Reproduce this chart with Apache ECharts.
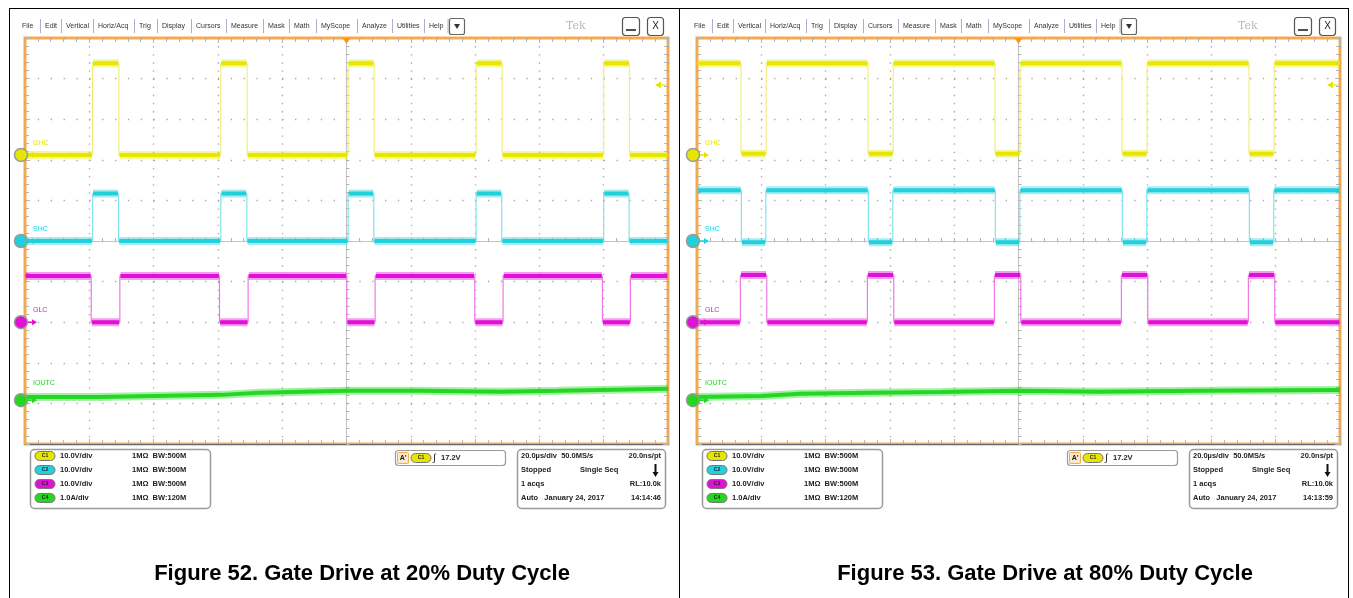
<!DOCTYPE html>
<html>
<head>
<meta charset="utf-8">
<script src="https://cdn.jsdelivr.net/npm/echarts@6/dist/echarts.min.js"></script>
<style>
html, body { margin: 0; padding: 0; background: #fff; }
#chart { width: 1353px; height: 598px; }
</style>
</head>
<body>
<div id="chart"></div>
<script>
// horizontal: microseconds (20 us/div), vertical: divisions
// edges = times where the trace toggles, levels = [level at start, other level]

// Figure 52, 20% duty
const ghcEdges20 = [-79.0, -70.8, -39.1, -30.9, 0.5, 8.6, 40.3, 48.4, 80.0, 88.0];
const shcEdges20 = [-79.0, -70.9, -39.1, -31.0, 0.5, 8.5, 40.3, 48.3, 80.0, 87.9];
const glcEdges20 = [-79.4, -70.5, -39.5, -30.6, 0.1, 8.9, 39.9, 48.7, 79.6, 88.3];
const ghcLevels20 = [2.12, 4.38];
const shcLevels20 = [0.0, 1.17];
const glcLevels20 = [-0.86, -2.0];
const ioutcTrace20 = [[-100, -3.84], [-77, -3.84], [-39, -3.79], [-27, -3.74], [0, -3.69], [23, -3.69], [48, -3.71], [66, -3.69], [79, -3.67], [100, -3.64]];

// Figure 53, 80% duty
const ghcEdges80 = [-86.3, -78.5, -46.8, -39.0, -7.3, 0.5, 32.2, 40.0, 71.7, 79.5];
const shcEdges80 = [-86.2, -78.6, -46.7, -39.1, -7.2, 0.4, 32.3, 39.9, 71.8, 79.4];
const glcEdges80 = [-86.5, -78.3, -47.0, -38.8, -7.5, 0.7, 32.0, 40.2, 71.5, 79.7];
const ghcLevels80 = [4.38, 2.15];
const shcLevels80 = [1.25, -0.03];
const glcLevels80 = [-2.0, -0.84];
const ioutcTrace80 = [[-100, -3.84], [-80, -3.82], [-68, -3.76], [-46, -3.74], [-24, -3.72], [0, -3.69], [25, -3.71], [56, -3.69], [100, -3.67]];

const channelNames = ['GHC', 'SHC', 'GLC', 'IOUTC'];
const channelOffsets = [2.12, 0, -2.0, -3.92];
const channelColors = ['#e6e600', '#22d0dc', '#e010d8', '#22d822'];
const edgeColors = ['#f0f07a', '#80e4ec', '#ee78e8', '#22d822'];
const triggerLevel = 3.84;

const menuItems = ['File', 'Edit', 'Vertical', 'Horiz/Acq', 'Trig', 'Display', 'Cursors', 'Measure', 'Mask', 'Math', 'MyScope', 'Analyze', 'Utilities', 'Help'];
const menuX = [22, 45, 66, 98, 139, 162, 196, 231, 268, 294, 321, 362, 397, 429];
const vertScales = ['10.0V/div', '10.0V/div', '10.0V/div', '1.0A/div'];
const bandwidths = ['1M\u03a9  BW:500M', '1M\u03a9  BW:500M', '1M\u03a9  BW:500M', '1M\u03a9  BW:120M'];
const captions = ['Figure 52. Gate Drive at 20% Duty Cycle', 'Figure 53. Gate Drive at 80% Duty Cycle'];
const timeStamps = ['14:14:46', '14:13:59'];

const panels = [
  { dx: 0, axis: 0, edges: [ghcEdges20, shcEdges20, glcEdges20], levels: [ghcLevels20, shcLevels20, glcLevels20], iout: ioutcTrace20, capX: 362 },
  { dx: 672, axis: 2, edges: [ghcEdges80, shcEdges80, glcEdges80], levels: [ghcLevels80, shcLevels80, glcLevels80], iout: ioutcTrace80, capX: 1045 }
];

function square(edges, lv) {
  const pts = [[-100, lv[0]]];
  let cur = 0;
  edges.forEach(t => {
    pts.push([t, lv[cur]]);
    cur = 1 - cur;
    pts.push([t, lv[cur]]);
  });
  pts.push([100, lv[cur]]);
  return pts;
}

function flats(edges, lv) {
  const b = [-100, ...edges, 100];
  const pts = [];
  let cur = 0;
  for (let i = 0; i < b.length - 1; i++) {
    pts.push([b[i] + 0.2, lv[cur]], [b[i + 1] - 0.2, lv[cur]], [b[i + 1], '-']);
    cur = 1 - cur;
  }
  return pts;
}

function line(data, color, width, opacity, ax) {
  return {
    type: 'line', xAxisIndex: ax, yAxisIndex: ax, data: data,
    symbol: 'none', silent: true, animation: false, z: 5,
    lineStyle: { color: color, width: width, opacity: opacity, cap: 'butt' }
  };
}

const tickStyle = { color: '#b4b4b4', width: 1 };

function xMain(grid, pos) {
  return {
    gridIndex: grid, type: 'value', min: -100, max: 100, interval: 20, position: pos,
    axisLine: { show: pos === 'bottom', onZero: false, lineStyle: { color: '#666', width: 1 } },
    axisTick: { show: true, inside: true, length: 5, lineStyle: tickStyle },
    minorTick: { show: true, splitNumber: 5, length: 4, lineStyle: tickStyle },
    axisLabel: { show: false },
    splitLine: { show: pos === 'bottom', lineStyle: { color: '#a6a6a6', width: 1.3, type: [1.3, 6.82] } }
  };
}
function yMain(grid, pos) {
  return {
    gridIndex: grid, type: 'value', min: -5, max: 5, interval: 1, position: pos,
    axisLine: { show: false, onZero: false },
    axisTick: { show: true, inside: true, length: 5, lineStyle: tickStyle },
    minorTick: { show: true, splitNumber: 5, length: 4, lineStyle: tickStyle },
    axisLabel: { show: false },
    splitLine: { show: pos === 'left', lineStyle: { color: '#a6a6a6', width: 1.3, type: [1.3, 11.56] } }
  };
}
function xCenter(grid) {
  return {
    gridIndex: grid, type: 'value', min: -100, max: 100, interval: 20,
    axisLine: { show: true, onZero: true, lineStyle: { color: '#c4c4c4', width: 1 } },
    axisTick: { show: true, inside: true, length: 3, lineStyle: { color: '#b0b0b0' } },
    minorTick: { show: true, splitNumber: 5, length: 3, lineStyle: { color: '#b0b0b0' } },
    axisLabel: { show: false }, splitLine: { show: false }
  };
}
function yCenter(grid) {
  return {
    gridIndex: grid, type: 'value', min: -5, max: 5, interval: 1,
    axisLine: { show: true, onZero: true, lineStyle: { color: '#c4c4c4', width: 1 } },
    axisTick: { show: true, inside: true, length: 3, lineStyle: { color: '#b0b0b0' } },
    minorTick: { show: true, splitNumber: 5, length: 3, lineStyle: { color: '#b0b0b0' } },
    axisLabel: { show: false }, splitLine: { show: false }
  };
}

const series = [];
panels.forEach(p => {
  for (let c = 0; c < 3; c++) {
    series.push(line(square(p.edges[c], p.levels[c]), edgeColors[c], 1.2, 1, p.axis));
    series.push(line(flats(p.edges[c], p.levels[c]), channelColors[c], 8, 0.4, p.axis));
    series.push(line(flats(p.edges[c], p.levels[c]), channelColors[c], 4, 1, p.axis));
  }
  series.push(line(p.iout, channelColors[3], 8, 0.4, p.axis));
  series.push(line(p.iout, channelColors[3], 4, 1, p.axis));
});

const gridBox = { top: 38, width: 643, height: 406 };
const chart = echarts.init(document.getElementById('chart'));
chart.setOption({
  backgroundColor: '#fff',
  animation: false,
  grid: [
    Object.assign({ left: 25, show: true, borderColor: '#f5aa4c', borderWidth: 3 }, gridBox),
    Object.assign({ left: 697, show: true, borderColor: '#f5aa4c', borderWidth: 3 }, gridBox),
    Object.assign({ left: 25 }, gridBox),
    Object.assign({ left: 697 }, gridBox)
  ],
  xAxis: [xMain(0, 'bottom'), xMain(0, 'top'), xMain(1, 'bottom'), xMain(1, 'top'), xCenter(2), xCenter(3)],
  yAxis: [yMain(0, 'left'), yMain(0, 'right'), yMain(1, 'left'), yMain(1, 'right'), yCenter(2), yCenter(3)],
  series: series
});

// annotations (scope UI chrome)
const font = 'Liberation Sans, Arial, sans-serif';
const g = [];
function txt(x, y, s, size, fill, extra) {
  g.push({ type: 'text', x: x, y: y, silent: true, z: 20,
    style: Object.assign({ text: s, fontSize: size, fill: fill, fontFamily: font, verticalAlign: 'middle' }, extra || {}) });
}
function rect(x, y, w, h, r, stroke, fill, lw) {
  g.push({ type: 'rect', silent: true, z: 19, shape: { x: x, y: y, width: w, height: h, r: r },
    style: { stroke: stroke, fill: fill, lineWidth: lw || 1 } });
}
function seg(x1, y1, x2, y2, stroke, lw) {
  g.push({ type: 'line', silent: true, z: 19, shape: { x1: x1, y1: y1, x2: x2, y2: y2 }, style: { stroke: stroke, lineWidth: lw || 1 } });
}
function poly(pts, fill) {
  g.push({ type: 'polygon', silent: true, z: 21, shape: { points: pts }, style: { fill: fill } });
}
function pill(x, y, label, color) {
  rect(x, y - 4.5, 20, 9, 4.5, '#777', color, 1);
  txt(x + 10, y, label, 5, '#222', { align: 'center', fontWeight: 'bold' });
}

// panel frames
seg(9, 8.5, 1349, 8.5, '#000', 1);
seg(9.5, 8, 9.5, 598, '#000', 1);
seg(679.5, 8, 679.5, 598, '#000', 1);
seg(1348.5, 8, 1348.5, 598, '#000', 1);

panels.forEach((p, pi) => {
  const dx = p.dx;
  // menu bar
  menuItems.forEach((m, i) => {
    txt(menuX[i] + dx, 26, m, 7, '#333');
    if (i > 0) seg(menuX[i] + dx - 4.5, 19, menuX[i] + dx - 4.5, 33, '#a9b3c8', 1);
  });
  seg(menuX[13] + dx + 19, 19, menuX[13] + dx + 19, 33, '#a9b3c8', 1);
  rect(449.5 + dx, 18.5, 15, 16, 2, '#666', '#fff', 1.2);
  poly([[454 + dx, 24], [460 + dx, 24], [457 + dx, 29]], '#333');
  txt(566 + dx, 26, 'Tek', 11, '#b8b8b8', { fontFamily: 'DejaVu Serif' });
  rect(622.5 + dx, 17.5, 17, 18, 3, '#555', '#fff', 1.2);
  seg(626 + dx, 30, 636 + dx, 30, '#222', 1.6);
  rect(647.5 + dx, 17.5, 16, 18, 3, '#555', '#fff', 1.2);
  txt(655.5 + dx, 26.5, 'X', 10, '#222', { align: 'center' });

  // trigger position marker and trigger level arrow
  const top = chart.convertToPixel({ xAxisIndex: p.axis, yAxisIndex: p.axis }, [0, 5]);
  poly([[top[0] - 4, top[1]], [top[0] + 4, top[1]], [top[0], top[1] + 6]], '#f59a1c');
  const trg = chart.convertToPixel({ xAxisIndex: p.axis, yAxisIndex: p.axis }, [100, triggerLevel]);
  poly([[trg[0] - 13, trg[1]], [trg[0] - 7, trg[1] - 3.5], [trg[0] - 7, trg[1] + 3.5]], channelColors[0]);
  seg(trg[0] - 8, trg[1], trg[0] - 2, trg[1], channelColors[0], 1.2);

  // channel ground markers and labels
  channelOffsets.forEach((off, c) => {
    const pt = chart.convertToPixel({ xAxisIndex: p.axis, yAxisIndex: p.axis }, [-100, off]);
    g.push({ type: 'circle', silent: true, z: 22, shape: { cx: pt[0] - 4, cy: pt[1], r: 6.5 },
      style: { fill: channelColors[c], stroke: '#9a9a9a', lineWidth: 1.5 } });
    txt(pt[0] - 4, pt[1] + 0.5, String(c + 1), 8, '#222', { align: 'center', fontWeight: 'bold' });
    seg(pt[0] + 3, pt[1], pt[0] + 8, pt[1], channelColors[c], 1.5);
    poly([[pt[0] + 7, pt[1] - 3], [pt[0] + 12, pt[1]], [pt[0] + 7, pt[1] + 3]], channelColors[c]);
    const lb = c === 3 ? 17 : 12;
    txt(pt[0] + 8, pt[1] - lb, channelNames[c], 7, channelColors[c]);
  });

  // vertical settings box
  rect(30.5 + dx, 449.5, 180, 59, 4, '#9a9a9a', '#fff', 1.5);
  [456, 470, 484, 498].forEach((y, c) => {
    pill(35 + dx, y, 'C' + (c + 1), channelColors[c]);
    txt(60 + dx, y, vertScales[c], 7.5, '#222', { fontWeight: 'bold' });
    txt(132 + dx, y, bandwidths[c], 7.5, '#222', { fontWeight: 'bold' });
  });

  // trigger box
  rect(395.5 + dx, 450.5, 110, 15, 3, '#9a9a9a', '#fff', 1.2);
  rect(397.5 + dx, 452.5, 11, 11, 1, '#f5aa4c', '#fde8c6', 1);
  txt(403 + dx, 458.5, "A'", 7, '#222', { align: 'center', fontWeight: 'bold' });
  pill(411 + dx, 458, 'C1', channelColors[0]);
  txt(433 + dx, 458, '\u222b', 10, '#222', { fontStyle: 'italic' });
  txt(441 + dx, 458, '17.2V', 7.5, '#222', { fontWeight: 'bold' });

  // acquisition box
  rect(517.5 + dx, 449.5, 148, 59, 4, '#9a9a9a', '#fff', 1.5);
  const bold = { fontWeight: 'bold' };
  const rt = { fontWeight: 'bold', align: 'right' };
  txt(521 + dx, 456, '20.0\u00b5s/div  50.0MS/s', 7.5, '#222', bold);
  txt(661 + dx, 456, '20.0ns/pt', 7.5, '#222', rt);
  txt(521 + dx, 470, 'Stopped', 7.5, '#222', bold);
  txt(580 + dx, 470, 'Single Seq', 7.5, '#222', bold);
  seg(655.5 + dx, 464, 655.5 + dx, 473, '#111', 2);
  poly([[652.5 + dx, 472], [658.5 + dx, 472], [655.5 + dx, 477]], '#111');
  txt(521 + dx, 484, '1 acqs', 7.5, '#222', bold);
  txt(661 + dx, 484, 'RL:10.0k', 7.5, '#222', rt);
  txt(521 + dx, 498, 'Auto   January 24, 2017', 7.5, '#222', bold);
  txt(661 + dx, 498, timeStamps[pi], 7.5, '#222', rt);

  // caption
  txt(p.capX, 574, captions[pi], 22, '#000', { align: 'center', fontWeight: 'bold' });
});

chart.setOption({ graphic: g });
</script>
</body>
</html>
